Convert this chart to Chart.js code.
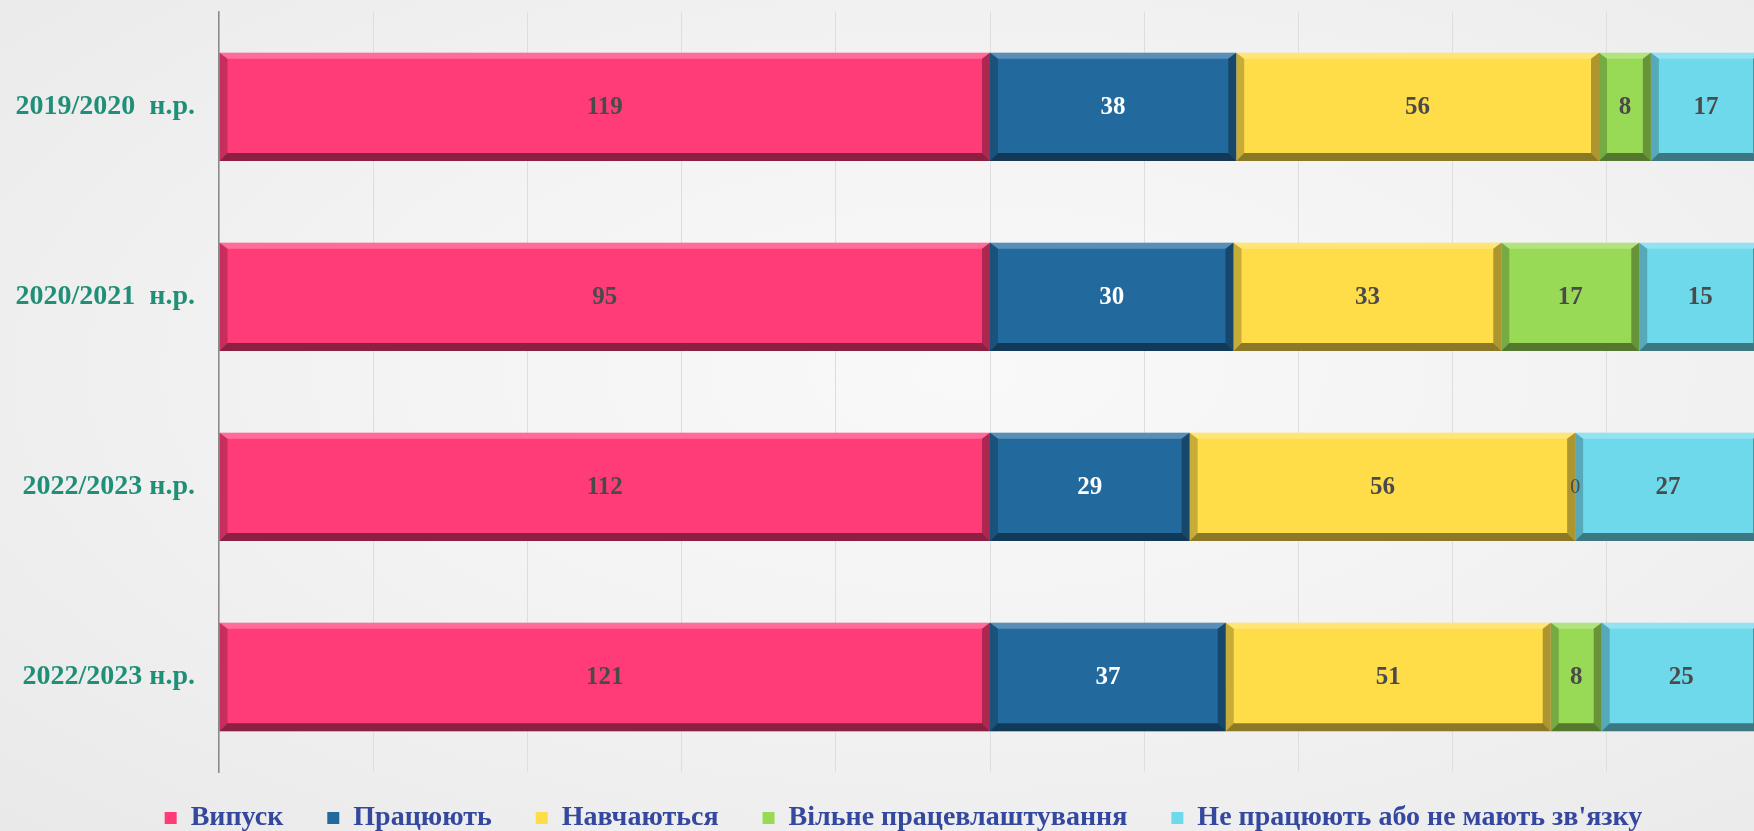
<!DOCTYPE html>
<html>
<head>
<meta charset="utf-8">
<script src="https://cdn.jsdelivr.net/npm/chart.js@4.4.1/dist/chart.umd.min.js"></script>
<style>
    html, body { margin: 0; padding: 0; overflow: hidden; }
    body {
        width: 1754px; height: 831px;
        background: radial-gradient(ellipse at 55% 45%, #f9f9f9 0%, #f3f3f3 45%, #e9e9e9 100%);
    }
    #wrap { position: absolute; left: 0; top: -29px; width: 1807px; height: 860px; }
</style>
</head>
<body>
<div id="wrap"><canvas id="chartMain"></canvas></div>
<script>
const years = ['2019/2020  н.р.', '2020/2021  н.р.', '2022/2023 н.р.', '2022/2023 н.р.'];
const seriesNames = ['Випуск', 'Працюють', 'Навчаються', 'Вільне працевлаштування', 'Не працюють або не мають зв\'язку'];
const vypusk = [119, 95, 112, 121];
const pratsyuyut = [38, 30, 29, 37];
const navchayutsya = [56, 33, 56, 51];
const vilne = [8, 17, 0, 8];
const nePratsyuyut = [17, 15, 27, 25];
const colors = ['#FF3B78', '#22699E', '#FFDD48', '#98DA55', '#6FD9EC'];
const labelColors = ['#4a4a4a', '#ffffff', '#4a4a4a', '#4a4a4a', '#4a4a4a'];

const raw = [vypusk, pratsyuyut, navchayutsya, vilne, nePratsyuyut];
// 100% stacked: share of each row total
const rowTotals = years.map((_, i) => raw.reduce((s, arr) => s + arr[i], 0));

const bevel = {
    id: 'bevel',
    afterDatasetsDraw(chart) {
        const ctx = chart.ctx;
        const b = 8;
        chart.data.datasets.forEach((ds, di) => {
            chart.getDatasetMeta(di).data.forEach(el => {
                const p = el.getProps(['x', 'y', 'base', 'height'], true);
                const l = Math.min(p.x, p.base), r = Math.max(p.x, p.base);
                const t = p.y - p.height / 2, bt = p.y + p.height / 2;
                if (r - l < 1) return;
                const bb = Math.min(b, (r - l) / 2);
                ctx.save();
                // top light
                ctx.fillStyle = 'rgba(255,255,255,0.25)';
                ctx.beginPath();
                ctx.moveTo(l, t); ctx.lineTo(r, t); ctx.lineTo(r - bb, t + 6); ctx.lineTo(l + bb, t + 6); ctx.closePath(); ctx.fill();
                // bottom dark
                ctx.fillStyle = 'rgba(0,0,0,0.45)';
                ctx.beginPath();
                ctx.moveTo(l, bt); ctx.lineTo(r, bt); ctx.lineTo(r - bb, bt - b); ctx.lineTo(l + bb, bt - b); ctx.closePath(); ctx.fill();
                // sides
                ctx.fillStyle = 'rgba(0,0,0,0.22)';
                ctx.beginPath();
                ctx.moveTo(l, t); ctx.lineTo(l + bb, t + 6); ctx.lineTo(l + bb, bt - b); ctx.lineTo(l, bt); ctx.closePath(); ctx.fill();
                ctx.fillStyle = 'rgba(0,0,0,0.32)';
                ctx.beginPath();
                ctx.moveTo(r, t); ctx.lineTo(r - bb, t + 6); ctx.lineTo(r - bb, bt - b); ctx.lineTo(r, bt); ctx.closePath(); ctx.fill();
                ctx.restore();
            });
        });
    }
};

const valueLabels = {
    id: 'valueLabels',
    afterDatasetsDraw(chart) {
        const ctx = chart.ctx;
        ctx.save();
        ctx.textAlign = 'center';
        ctx.textBaseline = 'middle';
        chart.data.datasets.forEach((ds, di) => {
            chart.getDatasetMeta(di).data.forEach((el, i) => {
                const v = raw[di][i];
                const p = el.getProps(['x', 'y', 'base'], true);
                ctx.font = v === 0 ? '20px "Liberation Serif"' : 'bold 25px "Liberation Serif"';
                ctx.fillStyle = labelColors[di];
                ctx.fillText(String(v), (p.x + p.base) / 2, p.y + 1);
            });
        });
        ctx.restore();
    }
};

new Chart(document.getElementById('chartMain'), {
    type: 'bar',
    data: {
        labels: years,
        datasets: seriesNames.map((name, di) => ({
            label: name,
            data: raw[di].map((v, i) => v / rowTotals[i] * 100),
            backgroundColor: colors[di],
            borderWidth: 0,
            barPercentage: 0.57,
            categoryPercentage: 1
        }))
    },
    options: {
        indexAxis: 'y',
        responsive: true, maintainAspectRatio: false,
        animation: false,
        layout: { padding: { top: 0, left: 0, right: 0, bottom: -23 } },
        plugins: {
            legend: {
                position: 'bottom',
                labels: {
                    font: { family: '"Liberation Serif"', size: 28, weight: 'bold' },
                    color: '#3548a0',
                    boxWidth: 12, boxHeight: 12,
                    padding: 44
                }
            },
            tooltip: { enabled: false }
        },
        scales: {
            x: {
                stacked: true, min: 0, max: 100,
                afterFit: s => { s.height = -12; },
                ticks: { display: false, stepSize: 10 },
                grid: { color: '#dedede', lineWidth: 1, drawTicks: false },
                border: { display: false }
            },
            y: {
                stacked: true,
                afterFit: s => { s.width = 219; },
                ticks: {
                    color: '#1f8f78', padding: 24,
                    font: { family: '"Liberation Serif"', size: 28, weight: 'bold' }
                },
                grid: { display: false, drawTicks: false },
                border: { color: '#8a8a8a', width: 1.5 }
            },
            // empty spacer on the right, off screen
            yRight: {
                type: 'category', position: 'right',
                afterFit: s => { s.width = 46; },
                ticks: { display: false },
                grid: { display: false, drawTicks: false },
                border: { display: false }
            }
        }
    },
    plugins: [bevel, valueLabels]
});
</script>
</body>
</html>
